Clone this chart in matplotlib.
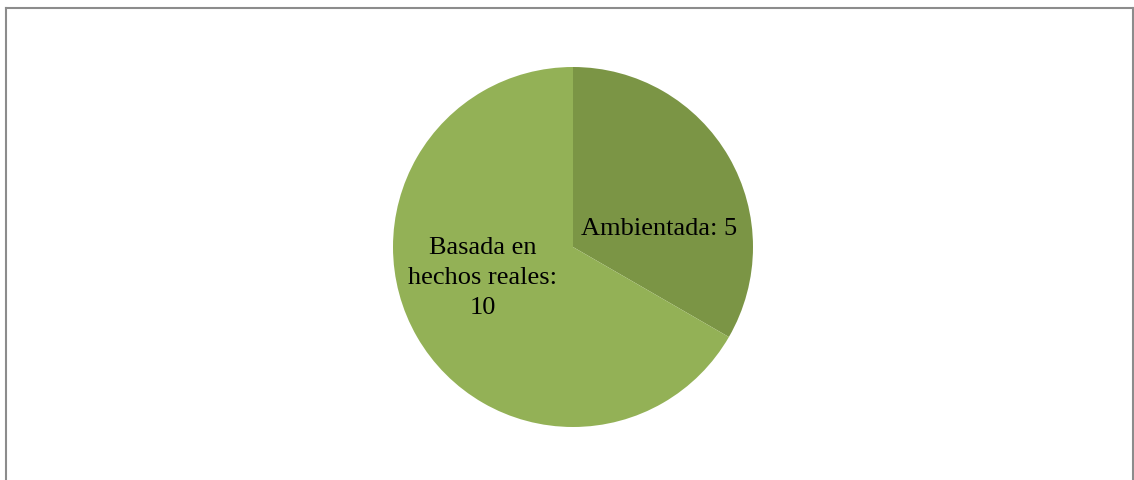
import matplotlib
matplotlib.use("Agg")
import matplotlib.pyplot as plt
from matplotlib.lines import Line2D

labels = ["Ambientada", "Basada en\nhechos reales"]
values = [5, 10]
colors = ["#7B9545", "#93B156"]

W, H = 1134, 480
fig = plt.figure(figsize=(W / 100, H / 100), dpi=100)
ax = fig.add_axes([0, 0, 1, 1])

cx, cy, r = 573, H - 247, 180
wedges, _ = ax.pie(values, colors=colors, startangle=90, counterclock=False,
                   radius=r, center=(cx, cy), frame=True,
                   wedgeprops=dict(linewidth=0))
ax.set_xlim(0, W)
ax.set_ylim(0, H)
ax.axis("off")

font = dict(family=["Liberation Serif", "DejaVu Serif"], fontsize=19, color="black")
ax.text(659, H - 229, f"{labels[0]}: {values[0]}", ha="center", va="center", **font)
ax.text(483, H - 278, f"{labels[1]}:\n{values[1]}", ha="center", va="center",
        linespacing=1.48, **font)

# chart border (open at bottom, as cropped)
lc = "#8C8C8C"
fig.add_artist(Line2D([6 / W, 6 / W], [0, 1 - 7.5 / H], transform=fig.transFigure, color=lc, lw=1.5))
fig.add_artist(Line2D([6 / W, 1133 / W], [1 - 7.5 / H, 1 - 7.5 / H], transform=fig.transFigure, color=lc, lw=1.5))
fig.add_artist(Line2D([1133 / W, 1133 / W], [0, 1 - 7.5 / H], transform=fig.transFigure, color=lc, lw=1.5))

fig.savefig("out.png", dpi=100, facecolor="white")
